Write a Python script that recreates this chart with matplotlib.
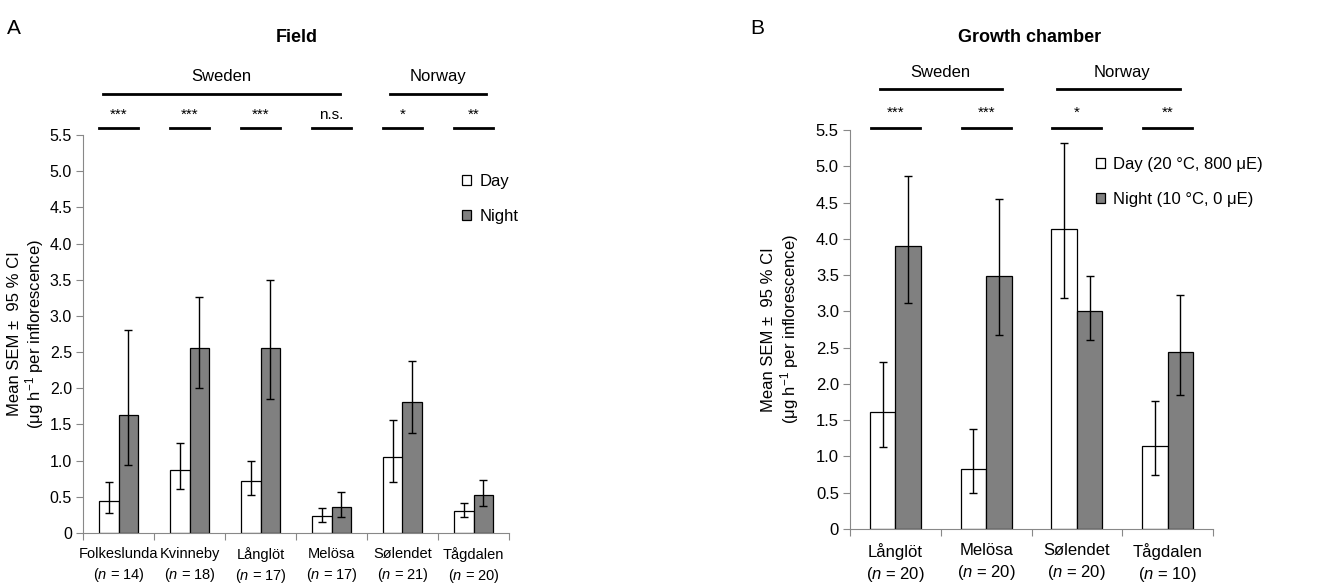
import numpy as np
import matplotlib.pyplot as plt
from matplotlib.patches import Rectangle

plt.rcParams['font.family'] = ['Liberation Sans', 'DejaVu Sans']
plt.rcParams['mathtext.fontset'] = 'custom'
plt.rcParams['mathtext.it'] = 'Liberation Sans:italic'
plt.rcParams['mathtext.rm'] = 'Liberation Sans'

# panel A: field
sites_a = ["Folkeslunda", "Kvinneby", "Långlöt", "Melösa", "Sølendet", "Tågdalen"]
n_a = [14, 18, 17, 17, 21, 20]
day_a = [0.44, 0.875, 0.72, 0.23, 1.05, 0.31]
day_a_lo = [0.27, 0.61, 0.52, 0.15, 0.71, 0.22]
day_a_hi = [0.70, 1.245, 0.99, 0.34, 1.565, 0.42]
night_a = [1.63, 2.55, 2.55, 0.36, 1.81, 0.52]
night_a_lo = [0.94, 2.00, 1.85, 0.22, 1.38, 0.37]
night_a_hi = [2.81, 3.26, 3.50, 0.57, 2.37, 0.73]
sig_a = ["***", "***", "***", "n.s.", "*", "**"]

# panel B: growth chamber
sites_b = ["Långlöt", "Melösa", "Sølendet", "Tågdalen"]
n_b = [20, 20, 20, 10]
day_b = [1.61, 0.83, 4.13, 1.15]
day_b_lo = [1.13, 0.50, 3.19, 0.75]
day_b_hi = [2.30, 1.38, 5.32, 1.76]
night_b = [3.90, 3.49, 3.01, 2.44]
night_b_lo = [3.11, 2.68, 2.61, 1.845]
night_b_hi = [4.86, 4.55, 3.49, 3.23]
sig_b = ["***", "***", "*", "**"]

fig = plt.figure(figsize=(13.23, 5.86), dpi=100)
axA = fig.add_axes([83/1323, 1-533/586, 426/1323, 398/586])
axB = fig.add_axes([850/1323, 1-529/586, 363/1323, 399/586])

w = 0.28
gray = "#808080"

def draw(ax, sites, n, day, dlo, dhi, night, nlo, nhi, fx, fy, ylab_x, xpad):
    x = np.arange(len(sites))
    day = np.array(day); night = np.array(night)
    derr = [day - np.array(dlo), np.array(dhi) - day]
    nerr = [night - np.array(nlo), np.array(nhi) - night]
    ax.bar(x - w/2, day, w, color="white", edgecolor="black", linewidth=0.9, zorder=2)
    ax.bar(x + w/2, night, w, color=gray, edgecolor="black", linewidth=0.9, zorder=2)
    ax.errorbar(x - w/2, day, yerr=derr, fmt="none", ecolor="black", elinewidth=1, capsize=3, capthick=1, zorder=3)
    ax.errorbar(x + w/2, night, yerr=nerr, fmt="none", ecolor="black", elinewidth=1, capsize=3, capthick=1, zorder=3)
    ax.set_xlim(-0.5, len(sites) - 0.5)
    ax.set_ylim(0, 5.5)
    ax.set_yticks(np.arange(0, 5.6, 0.5))
    ax.set_yticklabels(["0"] + ["%.1f" % v for v in np.arange(0.5, 5.6, 0.5)], fontsize=fy)
    ax.set_xticks(np.arange(-0.5, len(sites), 1.0))
    ax.set_xticklabels([])
    ax.set_xticks(x, minor=True)
    ax.set_xticklabels([s + "\n($\\mathit{n}$ = %d)" % k for s, k in zip(sites, n)], minor=True,
                       fontsize=fx, linespacing=1.4)
    ax.tick_params(axis="x", which="minor", length=0, pad=xpad)
    ax.tick_params(axis="x", which="major", length=5, color="#888888")
    ax.tick_params(axis="y", length=5, color="#888888", pad=3)
    for s in ["top", "right"]:
        ax.spines[s].set_visible(False)
    for s in ["left", "bottom"]:
        ax.spines[s].set_color("#888888")
    ax.set_ylabel("Mean SEM ±  95 % CI\n(μg h$^{-1}$ per inflorescence)", fontsize=12, linespacing=1.1)
    ax.yaxis.set_label_coords(ylab_x, 0.5)

draw(axA, sites_a, n_a, day_a, day_a_lo, day_a_hi, night_a, night_a_lo, night_a_hi, 10.5, 11.5, -0.086, 10)
draw(axB, sites_b, n_b, day_b, day_b_lo, day_b_hi, night_b, night_b_lo, night_b_hi, 12, 12, -0.135, 10)

# significance marks and country groups
for i, s in enumerate(sig_a):
    axA.plot([i - 0.27, i + 0.27], [5.59, 5.59], color="black", lw=2, clip_on=False)
    axA.text(i, 5.78, s, ha="center", va="center", fontsize=11)
axA.plot([-0.22, 3.12], [6.06, 6.06], color="black", lw=2, clip_on=False)
axA.plot([3.82, 5.17], [6.06, 6.06], color="black", lw=2, clip_on=False)
axA.text(1.45, 6.31, "Sweden", ha="center", va="center", fontsize=12)
axA.text(4.5, 6.31, "Norway", ha="center", va="center", fontsize=12)

for i, s in enumerate(sig_b):
    axB.plot([i - 0.27, i + 0.27], [5.53, 5.53], color="black", lw=2, clip_on=False)
    axB.text(i, 5.74, s, ha="center", va="center", fontsize=11)
axB.plot([-0.17, 1.18], [6.06, 6.06], color="black", lw=2, clip_on=False)
axB.plot([1.78, 3.14], [6.06, 6.06], color="black", lw=2, clip_on=False)
axB.text(0.5, 6.29, "Sweden", ha="center", va="center", fontsize=12)
axB.text(2.5, 6.29, "Norway", ha="center", va="center", fontsize=12)

# legends
hA = [Rectangle((0, 0), 1, 1, fc="white", ec="black", lw=0.9),
      Rectangle((0, 0), 1, 1, fc=gray, ec="black", lw=0.9)]
axA.legend(hA, ["Day", "Night"], loc="upper left", bbox_to_anchor=(0.855, 0.94), frameon=False,
           handlelength=0.55, handleheight=0.55, handletextpad=0.5, labelspacing=1.2, fontsize=12)
axB.legend(hA, ["Day (20 °C, 800 μE)", "Night (10 °C, 0 μE)"], loc="upper left",
           bbox_to_anchor=(0.635, 0.97), frameon=False,
           handlelength=0.55, handleheight=0.55, handletextpad=0.5, labelspacing=1.2, fontsize=12)

fig.text(297/1323, 1-37/586, "Field", ha="center", va="center", fontsize=13, fontweight="bold")
fig.text(1030/1323, 1-37/586, "Growth chamber", ha="center", va="center", fontsize=13, fontweight="bold")
fig.text(14/1323, 1-28/586, "A", ha="center", va="center", fontsize=15)
fig.text(757/1323, 1-28/586, "B", ha="center", va="center", fontsize=15)

fig.savefig("out.png", dpi=100)
